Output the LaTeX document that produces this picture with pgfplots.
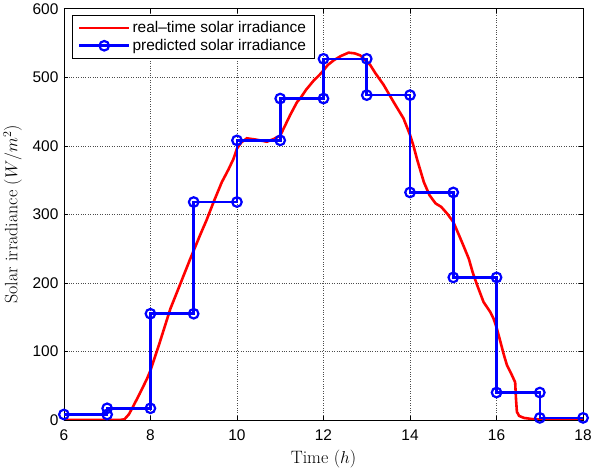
\documentclass[border=0pt]{standalone}
\usepackage{pgfplots}
\pgfplotsset{compat=1.18}
\usepackage{fontspec}
\setsansfont{Liberation Sans}
\begin{document}
\begin{tikzpicture}
\begin{axis}[
  scale only axis,
  width=519bp, height=411bp,
  xmin=6, xmax=18, ymin=0, ymax=600,
  xtick={6,8,...,18}, ytick={0,100,...,600},
  tick align=inside,
  grid=major,
  major grid style={black!70, dotted, line width=0.6pt},
  axis line style={black, line width=0.6pt},
  tick style={black, line width=0.6pt},
  /pgf/number format/assume math mode=true,
  tick label style={font=\sffamily\fontsize{15.5}{17}\selectfont},
  xticklabel style={yshift=-6pt},
  yticklabel style={xshift=-2pt},
  xlabel={Time ($h$)},
  ylabel={Solar irradiance ($W/m^2$)},
  label style={font=\fontsize{18}{20}\selectfont},
  xlabel style={yshift=-3pt},
  ylabel style={yshift=4pt},
  legend style={at={(0.015,0.985)}, anchor=north west, draw=black, line width=0.6pt,
    font=\sffamily\fontsize{15.5}{17}\selectfont, inner xsep=6pt, inner ysep=4.5pt, row sep=1pt,
    legend cell align=left},
  legend image code/.code={
    \draw[mark repeat=2,mark phase=2] plot coordinates {(0bp,0bp) (25bp,0bp) (50bp,0bp)};},
]
\addplot[red, line width=2.6pt, mark=none] coordinates {
(6,0) (7.3,0) (7.4,1) (7.5,8) (7.57,16) (7.75,38) (7.92,60) (8.0,72) (8.2,110) (8.46,162) (8.7,200) (8.92,235) (9.15,270) (9.3,292) (9.46,318) (9.65,347) (9.8,365) (9.92,381) (10.0,396) (10.1,405) (10.23,411) (10.45,409) (10.69,406) (10.85,410) (11.0,415) (11.1,428) (11.23,445) (11.39,464) (11.46,469) (11.6,482) (11.77,495) (11.9,503) (12.0,510) (12.1,518) (12.24,525) (12.4,531) (12.58,536) (12.72,535) (12.85,532) (12.95,526) (13.08,518) (13.2,506) (13.39,489) (13.5,477) (13.62,464) (13.85,440) (14.0,416) (14.08,400) (14.16,381) (14.32,347) (14.45,328) (14.59,316) (14.72,311) (14.86,301) (15.0,289) (15.13,270) (15.25,252) (15.36,235) (15.45,215) (15.55,197) (15.70,172) (15.85,158) (15.93,148) (16.0,135) (16.09,114) (16.16,97) (16.24,80) (16.35,66) (16.43,55) (16.45,30) (16.47,12) (16.52,6) (16.63,3) (16.86,1) (17.2,0) (18,0)
};
\addlegendentry{real--time solar irradiance}
\addplot[blue, line width=2.6pt, mark=o, mark size=4.8pt, mark options={line width=2.2pt}] coordinates {
(6,8) (7,8) (7,17) (8,17) (8,155) (9,155) (9,318) (10,318) (10,408) (11,408) (11,469) (12,469) (12,527) (13,527) (13,474) (14,474) (14,332) (15,332) (15,208) (16,208) (16,40) (17,40) (17,3) (18,3)
};
\addlegendentry{predicted solar irradiance}
\end{axis}
\end{tikzpicture}
\end{document}
